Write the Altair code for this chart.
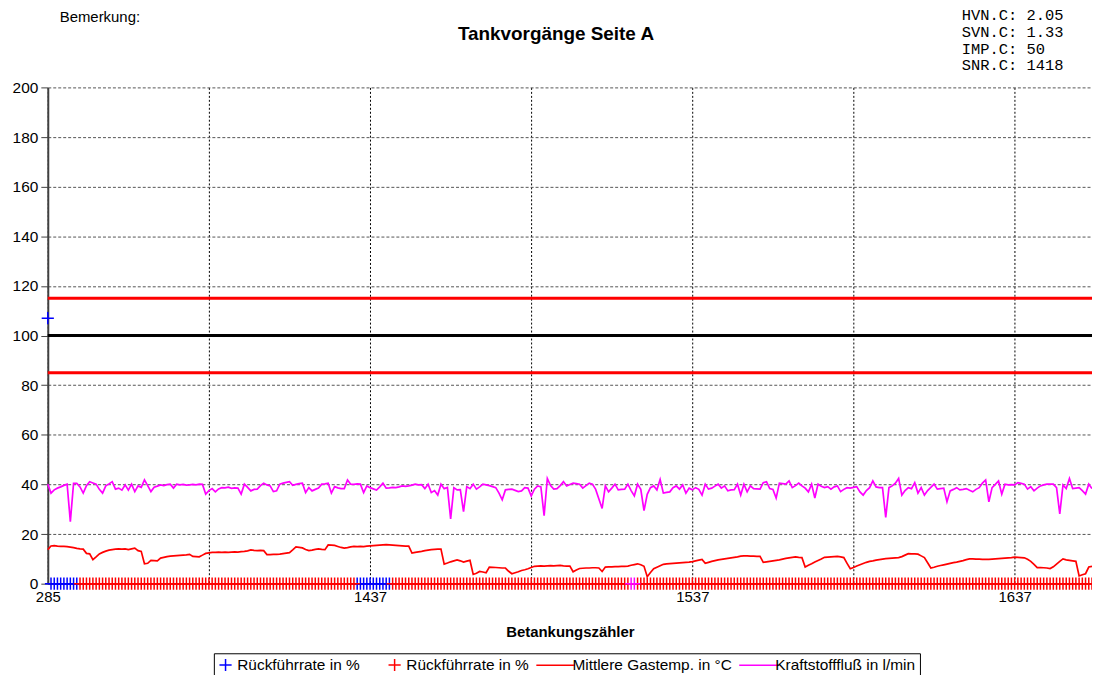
import altair as alt
import pandas as pd

# ---------------- data ----------------
counter_label_pos = [0, 100, 200, 300]
counter_labels = ["285", "1437", "1537", "1637"]
x_grid_pos = [0, 50, 100, 150, 200, 250, 300]
y_ticks = [0, 20, 40, 60, 80, 100, 120, 140, 160, 180, 200]

S_BLUE = "Rückführrate in %"
S_RED = "Rückführrate in % "
S_TEMP = "Mittlere Gastemp. in °C"
S_FLOW = "Kraftstofffluß in l/min"

temp = [
    13.7, 15.2, 15.3, 15.1, 15.0, 15.0, 14.9, 14.7, 14.5, 14.2, 14.0, 13.9, 12.2, 12.0, 9.7, 10.8, 12.0, 12.6, 13.1, 13.5, 13.7, 13.9, 14.0, 13.9, 14.0,
    13.7, 14.0, 14.3, 13.3, 13.0, 8.0, 8.2, 9.4, 9.3, 9.2, 10.3, 10.6, 10.9, 11.1, 11.2, 11.3, 11.4, 11.5, 11.6, 11.8, 11.0, 10.9, 10.8, 11.5, 12.2,
    12.4, 12.6, 12.6, 12.7, 12.6, 12.7, 12.6, 12.7, 12.8, 12.7, 12.9, 13.0, 13.2, 13.6, 13.4, 13.3, 13.4, 13.3, 11.7, 11.7, 11.8, 11.8, 11.9, 12.1, 12.3,
    12.5, 13.6, 14.8, 14.6, 14.4, 13.8, 13.3, 13.5, 13.8, 14.0, 13.8, 13.7, 15.6, 15.5, 15.4, 15.0, 14.6, 14.3, 14.5, 14.8, 15.0, 14.9, 15.0, 14.9, 15.1,
    15.2, 15.3, 15.4, 15.5, 15.6, 15.7, 15.6, 15.5, 15.4, 15.3, 15.2, 15.1, 15.1, 12.3, 12.6, 12.8, 13.0, 13.3, 13.5, 13.7, 13.8, 13.9, 13.9, 7.9, 8.3,
    8.8, 9.2, 9.6, 9.2, 8.7, 9.1, 9.4, 3.7, 4.2, 4.9, 4.7, 4.4, 6.7, 6.6, 6.5, 6.4, 6.3, 6.3, 5.0, 4.0, 4.4, 4.8, 5.3, 5.6, 6.0,
    6.5, 7.0, 7.1, 7.2, 7.1, 7.2, 7.3, 7.2, 7.3, 7.4, 7.2, 7.1, 7.1, 4.8, 5.5, 6.1, 6.2, 6.3, 6.3, 6.4, 6.4, 6.3, 4.9, 6.7, 6.8,
    6.8, 6.9, 6.9, 7.0, 7.0, 7.1, 7.4, 7.7, 8.0, 7.6, 7.0, 2.8, 4.5, 6.0, 6.6, 7.2, 7.8, 8.0, 8.1, 8.2, 8.3, 8.4, 8.5, 8.6, 8.7,
    8.9, 9.2, 9.5, 9.8, 8.2, 8.6, 9.0, 9.3, 9.6, 9.8, 10.0, 10.2, 10.4, 10.6, 10.8, 11.1, 11.2, 11.2, 11.1, 11.1, 11.0, 11.0, 8.6, 8.8, 9.0,
    9.2, 9.4, 9.6, 9.9, 10.2, 10.4, 10.6, 10.8, 10.6, 10.5, 6.7, 7.4, 8.0, 8.7, 9.3, 9.9, 10.6, 10.7, 10.8, 10.9, 11.0, 10.8, 10.5, 8.2, 6.0,
    6.5, 7.1, 7.6, 8.1, 8.6, 9.0, 9.2, 9.5, 9.7, 9.9, 10.1, 10.2, 10.3, 10.4, 10.5, 10.9, 11.5, 12.1, 12.0, 12.0, 11.9, 11.2, 10.5, 8.4, 6.3,
    6.6, 7.0, 7.3, 7.6, 7.9, 8.2, 8.5, 8.7, 9.0, 9.3, 9.7, 10.0, 10.0, 9.9, 9.9, 9.8, 9.8, 9.8, 9.9, 10.0, 10.1, 10.2, 10.3, 10.4, 10.5,
    10.7, 10.6, 10.5, 10.4, 9.8, 9.0, 7.8, 6.5, 6.5, 6.4, 6.3, 6.1, 6.8, 7.9, 9.0, 10.0, 9.6, 9.4, 9.2, 9.0, 3.1, 3.6, 4.0, 6.7, 7.0,
]

flow = [
    40.1, 36.5, 37.8, 38.5, 39.0, 39.6, 40.1, 25.0, 40.4, 40.4, 39.0, 36.5, 39.5, 41.1, 40.6, 40.1, 38.0, 36.5, 39.4, 40.2, 41.1, 38.1, 38.5, 37.7, 39.8,
    37.7, 40.1, 37.1, 39.4, 38.8, 41.8, 39.5, 37.1, 38.9, 39.3, 39.8, 39.5, 39.9, 40.1, 38.5, 40.1, 39.8, 40.0, 39.7, 39.8, 40.0, 39.8, 40.1, 40.0, 36.1,
    37.5, 38.3, 37.0, 38.2, 38.7, 38.6, 38.9, 38.4, 38.6, 38.5, 36.1, 40.1, 38.8, 37.4, 38.0, 38.1, 39.5, 40.5, 39.8, 39.4, 37.1, 37.4, 40.1, 40.5, 40.8,
    41.1, 39.6, 40.0, 40.3, 40.5, 36.7, 38.7, 37.4, 38.0, 38.5, 40.1, 40.2, 40.5, 36.5, 39.1, 38.6, 38.3, 38.3, 41.8, 40.1, 40.0, 40.2, 40.1, 36.7, 39.4,
    38.7, 38.2, 37.7, 39.0, 40.5, 38.5, 38.6, 38.8, 38.7, 39.0, 39.4, 39.2, 39.4, 39.7, 40.1, 39.8, 39.9, 38.3, 40.1, 36.7, 37.5, 35.7, 40.1, 38.3, 38.8,
    26.1, 38.7, 37.8, 37.9, 29.0, 39.1, 38.3, 40.1, 38.1, 39.0, 40.1, 39.8, 39.5, 39.1, 38.7, 36.5, 33.8, 37.8, 38.0, 38.1, 37.6, 37.1, 37.4, 38.7, 38.5,
    35.4, 38.1, 39.4, 39.0, 27.4, 42.4, 39.5, 38.1, 38.3, 39.5, 41.1, 39.4, 40.0, 40.5, 40.3, 40.1, 38.5, 39.5, 40.5, 40.1, 38.0, 34.1, 30.3, 39.4, 37.0,
    38.5, 40.1, 37.8, 38.0, 38.1, 40.1, 37.5, 35.4, 40.1, 38.0, 29.4, 36.0, 38.7, 39.4, 37.8, 42.0, 36.5, 36.8, 37.0, 38.7, 39.4, 38.1, 39.8, 36.5, 38.5,
    37.8, 38.7, 38.0, 35.7, 40.1, 38.1, 38.5, 39.3, 40.1, 38.5, 39.4, 37.4, 37.8, 37.9, 40.1, 35.7, 40.1, 37.0, 39.4, 38.3, 38.2, 38.1, 40.7, 41.1, 38.3,
    38.0, 34.5, 40.5, 40.3, 40.1, 41.4, 38.7, 39.5, 40.5, 39.4, 38.5, 37.0, 40.1, 34.5, 40.1, 39.3, 38.7, 39.1, 38.1, 39.0, 39.4, 37.1, 38.0, 38.7, 38.5,
    38.8, 39.1, 37.0, 35.7, 37.5, 38.7, 41.4, 39.0, 38.7, 38.7, 26.7, 38.7, 39.4, 40.5, 42.4, 35.7, 37.5, 38.7, 38.3, 40.7, 36.5, 38.7, 35.7, 37.5, 38.8,
    40.1, 38.1, 38.3, 38.5, 33.0, 37.4, 38.0, 38.7, 37.8, 38.0, 38.3, 37.6, 37.0, 38.0, 38.7, 40.5, 41.8, 33.0, 38.7, 40.0, 41.4, 36.1, 40.1, 39.8, 39.9,
    39.8, 40.7, 40.4, 40.1, 38.1, 39.1, 37.4, 38.5, 39.4, 39.8, 40.1, 40.1, 40.1, 38.7, 28.1, 39.8, 38.3, 42.4, 38.3, 38.5, 38.7, 37.5, 36.1, 40.1, 38.3,
]

# Rückführrate markers: blue ones (index, value); all other counters are red at 0
blue_idx = [0, 1, 2, 3, 4, 5, 6, 7, 8, 9,
            96, 97, 98, 99, 100, 101, 102, 103, 104, 105, 106]
blue_val = [107, 0, 0, 0, 0, 0, 0, 0, 0, 0,
            0, 0, 0, 0, 0, 0, 0, 0, 0, 0, 0]
magenta_idx = [181, 182]
red_value = 0

limits_red = [115, 85]
limits_black = [100]

header_lines = ["HVN.C: 2.05", "SVN.C: 1.33", "IMP.C: 50", "SNR.C: 1418"]
remark = "Bemerkung:"
title_text = "Tankvorgänge Seite A"
x_title = "Betankungszähler"

# ---------------- frames ----------------
n = len(temp)
lines_df = pd.DataFrame(
    {"idx": list(range(n)) + list(range(len(flow))),
     "val": temp + flow,
     "series": [S_TEMP] * n + [S_FLOW] * len(flow)}
)

pt_rows = [{"idx": i, "val": v, "series": S_BLUE} for i, v in zip(blue_idx, blue_val)]
special = set(blue_idx) | set(magenta_idx)
pt_rows += [{"idx": i, "val": red_value, "series": S_RED} for i in range(n) if i not in special]
pts_df = pd.DataFrame(pt_rows)
mag_df = pd.DataFrame({"idx": magenta_idx, "val": [0] * len(magenta_idx)})

FONT = "Liberation Sans"
CROSS = "M-1,0H1M0,-1V1"
LEG_CROSS = "M-4.5,0M-1,0H1M0,-1V1"
LEG_LINE = "M-4.0,0H2.3"
domain = [S_BLUE, S_RED, S_TEMP, S_FLOW]
color_scale = alt.Scale(domain=domain, range=["#0000ff", "#ff0000", "#ff0000", "#ff00ff"])
shape_scale = alt.Scale(domain=domain, range=[LEG_CROSS, LEG_CROSS, LEG_LINE, LEG_LINE])

label_expr = " : ".join(f"datum.value == {p} ? '{l}'" for p, l in zip(counter_label_pos, counter_labels)) + " : ''"

x_scale = alt.Scale(domain=[0, n - 1], nice=False, zero=False)
y_scale = alt.Scale(domain=[0, 200], nice=False)

x_enc = alt.X(
    "idx:Q", scale=x_scale,
    axis=alt.Axis(values=x_grid_pos, labelExpr=label_expr, title=x_title,
                  grid=True, gridDash=[2, 2], gridColor="#000000", gridOpacity=1,
                  ticks=False, labelPadding=6, labelFont=FONT, labelFontSize=15,
                  labelColor="#000000", titleFont=FONT, titleFontSize=15,
                  titleFontWeight="bold", titleColor="#000000", titlePadding=20,
                  domainColor="#404040", domainWidth=1, labelFlush=False),
)
y_enc = alt.Y(
    "val:Q", scale=y_scale,
    axis=alt.Axis(values=y_ticks, title=None, grid=True, gridDash=[3, 2],
                  gridColor="#555555", gridOpacity=1, tickSize=7, tickColor="#404040",
                  domainColor="#404040", domainWidth=2, labelPadding=3,
                  labelFont=FONT, labelFontSize=15.5, labelColor="#000000"),
)

legend_def = alt.Legend(title=None, orient="none", direction="horizontal",
                        legendX=167, legendY=569)

base_lines = alt.Chart(lines_df).mark_line(strokeWidth=1.7).encode(
    x=x_enc, y=y_enc,
    color=alt.Color("series:N", scale=color_scale, legend=legend_def),
)

rule_red = alt.Chart(pd.DataFrame({"v": limits_red})).mark_rule(
    color="#ff0000", strokeWidth=3).encode(y=alt.Y("v:Q", scale=y_scale))
rule_black = alt.Chart(pd.DataFrame({"v": limits_black})).mark_rule(
    color="#000000", strokeWidth=3).encode(y=alt.Y("v:Q", scale=y_scale))

# data crosses use the plain cross; legend uses the padded path via the shape scale
points = alt.Chart(pts_df).mark_point(filled=False, strokeWidth=1.5, opacity=1, size=150,
                                      shape=CROSS).encode(
    x=alt.X("idx:Q", scale=x_scale),
    y=alt.Y("val:Q", scale=y_scale),
    color=alt.Color("series:N", scale=color_scale, legend=legend_def),
)

# invisible layer that only feeds the combined legend's symbol shapes
legend_feed = alt.Chart(pd.DataFrame({"series": domain, "idx": [0] * 4, "val": [0] * 4})).mark_point(
    filled=False, strokeWidth=1.5, size=150, opacity=0).encode(
    x=alt.X("idx:Q", scale=x_scale),
    y=alt.Y("val:Q", scale=y_scale),
    color=alt.Color("series:N", scale=color_scale, legend=legend_def),
    shape=alt.Shape("series:N", scale=shape_scale, legend=legend_def),
)

mag_pts = alt.Chart(mag_df).mark_point(filled=False, strokeWidth=1.5, opacity=1,
                                       shape=CROSS, size=150, color="#ff00ff").encode(
    x=alt.X("idx:Q", scale=x_scale), y=alt.Y("val:Q", scale=y_scale))

remark_txt = alt.Chart(pd.DataFrame({"t": [remark]})).mark_text(
    align="left", baseline="alphabetic", font=FONT, fontSize=15, color="#000000").encode(
    x=alt.value(12), y=alt.value(-66), text="t:N")

header_txt = alt.Chart(pd.DataFrame({"t": ["\n".join(header_lines)]})).mark_text(
    align="left", baseline="alphabetic", font="Liberation Mono", fontSize=15.5, lineBreak="\n",
    lineHeight=17, color="#000000").encode(
    x=alt.value(919), y=alt.value(-68), text="t:N")

title_txt = alt.Chart(pd.DataFrame({"t": [title_text]})).mark_text(
    align="center", baseline="middle", font=FONT, fontSize=19, fontWeight="bold",
    color="#000000").encode(
    x=alt.value(511), y=alt.value(-54), text="t:N")

chart = alt.layer(
    base_lines, rule_red, rule_black, legend_feed, points, mag_pts, remark_txt, header_txt, title_txt
).properties(
    width=1050, height=499,
    autosize=alt.AutoSizeParams(type="none"),
    padding={"left": 40, "top": 78, "right": 0, "bottom": 90},
).configure_view(stroke=None).configure_legend(
    labelFont=FONT, labelFontSize=15.5, labelColor="#000000",
    strokeColor="#000000", strokeWidth=1, padding=4,
    symbolStrokeWidth=1.5, symbolSize=150, symbolOpacity=1,
    columnPadding=4, labelOffset=4, labelLimit=400,
)

chart.save("out.html", embed_options={"renderer": "svg", "actions": False})
